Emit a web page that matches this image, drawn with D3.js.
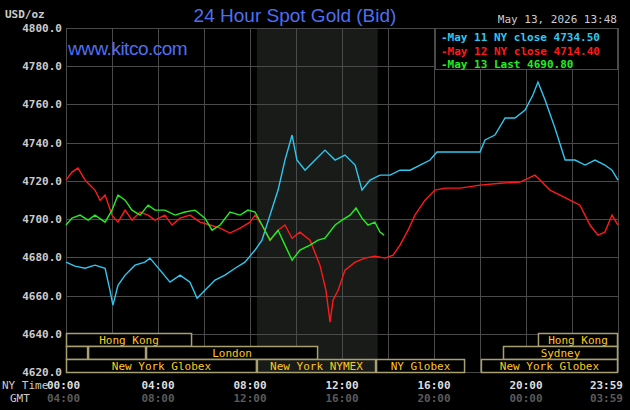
<!DOCTYPE html>
<html><head><meta charset="utf-8">
<script src="https://cdn.jsdelivr.net/npm/d3@7"></script>
<style>body{margin:0;background:#000}svg{display:block}</style>
</head><body><svg id="c" width="630" height="410"></svg>
<script>
// hour since 00:00 NY time, price USD/oz
const may11 = [[0,4677.5],[.39,4675.4],[.83,4674.3],[1.26,4675.9],[1.7,4674.3],[1.91,4662.8],[2.04,4655],[2.26,4665.4],[2.57,4670.7],[3,4675.9],[3.43,4677.5],[3.65,4679.6],[4.09,4673.3],[4.52,4667],[4.96,4670.7],[5.39,4667],[5.7,4658.6],[6.04,4662.8],[6.48,4668.1],[6.91,4670.7],[7.35,4674.3],[7.78,4677.5],[8.22,4683.8],[8.52,4689],[8.87,4702.1],[9.22,4715.2],[9.52,4730.9],[9.83,4744],[10.04,4730.9],[10.39,4725.6],[10.83,4730.9],[11.26,4736.1],[11.7,4730.9],[12.13,4733.5],[12.57,4728.3],[12.87,4715.2],[13.22,4720.4],[13.65,4723],[14.09,4723],[14.52,4725.6],[14.96,4725.6],[15.39,4728.3],[15.83,4730.9],[16.13,4735.1],[16.48,4735.1],[16.91,4735.1],[17.57,4735.1],[18,4735.1],[18.22,4741.4],[18.65,4744],[19.09,4752.9],[19.52,4752.9],[19.96,4757.1],[20.3,4764.9],[20.52,4771.7],[20.83,4762.3],[21.26,4747.6],[21.7,4730.9],[22.13,4730.9],[22.57,4728.3],[23,4730.9],[23.43,4728.3],[23.74,4725.6],[24,4720.4]];
const may12 = [[0,4720.4],[.26,4724.6],[.52,4726.7],[.83,4720.4],[1.04,4717.8],[1.26,4715.2],[1.48,4709.9],[1.7,4712.6],[2,4702.1],[2.26,4698.4],[2.57,4704.7],[2.87,4699.5],[3.22,4703.7],[3.57,4702.1],[3.87,4699.5],[4.3,4702.1],[4.61,4696.9],[4.96,4700.5],[5.39,4702.1],[5.83,4698.4],[6.26,4696.9],[6.7,4695.3],[7.13,4692.7],[7.57,4695.3],[8,4698.4],[8.22,4702.1],[8.52,4696.9],[8.87,4689],[9.22,4694.2],[9.52,4696.9],[9.83,4690],[10.17,4693.2],[10.61,4689],[11.04,4675.9],[11.3,4662.8],[11.48,4646.1],[11.61,4657.6],[11.83,4662.8],[12.13,4673.3],[12.57,4677.5],[13,4679.6],[13.43,4680.6],[13.87,4679.6],[14.22,4681.1],[14.52,4686.4],[14.87,4694.2],[15.17,4702.1],[15.61,4709.9],[16.04,4715.2],[16.48,4716.2],[17.13,4716.2],[18,4717.8],[18.87,4718.8],[19.74,4719.4],[20.39,4723],[20.61,4720.4],[21.04,4715.2],[21.48,4712.6],[21.91,4709.9],[22.35,4707.3],[22.78,4696.9],[23.13,4691.6],[23.43,4693.2],[23.74,4702.1],[24,4696.9]];
const may13 = [[0,4696.9],[.26,4700.5],[.61,4702.1],[.96,4699.5],[1.26,4702.1],[1.7,4698.4],[2,4704.7],[2.26,4712.6],[2.57,4709.9],[2.87,4704.7],[3.22,4702.1],[3.57,4707.3],[3.87,4704.7],[4.3,4704.7],[4.74,4702.1],[5.17,4703.7],[5.61,4704.7],[6.04,4700.5],[6.35,4694.2],[6.7,4696.9],[7.13,4703.7],[7.57,4702.1],[7.91,4704.7],[8.22,4703.7],[8.52,4696.9],[8.87,4689],[9.22,4694.2],[9.52,4686.4],[9.83,4678.5],[10.17,4683.8],[10.61,4686.4],[10.96,4689],[11.26,4690],[11.7,4696.9],[12,4699.5],[12.35,4702.1],[12.61,4705.8],[12.87,4700.5],[13.13,4696.9],[13.43,4698.4],[13.65,4693.2],[13.83,4691.6]];
const series = [
  {name: "May 11 NY close 4734.50", color: "#2fc8f0", data: may11},
  {name: "May 12 NY close 4714.40", color: "#ff1a1a", data: may12},
  {name: "May 13 Last 4690.80", color: "#22ee22", data: may13}
];
const priceTicks = [4620, 4640, 4660, 4680, 4700, 4720, 4740, 4760, 4780, 4800];
const nyLabels = ["00:00", "04:00", "08:00", "12:00", "16:00", "20:00", "23:59"];
const gmtLabels = ["04:00", "08:00", "12:00", "16:00", "20:00", "00:00", "03:59"];
const labelHours = [0, 4, 8, 12, 16, 20, 24];
const nymexHours = [8.3, 13.55];
// sessions: [start, end, row, label]
const sessions = [
  [0, 5.48, 0, "Hong Kong"], [20.52, 24, 0, "Hong Kong"],
  [0, 0.96, 1, ""], [0.96, 3.48, 1, ""], [3.48, 10.96, 1, "London"], [19, 24, 1, "Sydney"],
  [0, 8.3, 2, "New York Globex"], [8.3, 13.48, 2, "New York NYMEX"], [13.48, 17.35, 2, "NY Globex"], [18.04, 24, 2, "New York Globex"]
];

const svg = d3.select("#c");
const mono = "DejaVu Sans Mono";
const x = d3.scaleLinear().domain([0, 24]).range([66, 618]);
const y = d3.scaleLinear().domain([4620, 4800]).range([372, 28]);

svg.append("rect").attr("x", 66).attr("y", 28).attr("width", 552).attr("height", 344).attr("fill", "#000");
svg.append("rect").attr("x", x(nymexHours[0])).attr("y", 28)
  .attr("width", x(nymexHours[1]) - x(nymexHours[0])).attr("height", 344).attr("fill", "#181b18");

const grid = svg.append("g").attr("stroke", "#4a4a4a").attr("stroke-width", 1);
d3.range(0, 25, 2).forEach(h => grid.append("line").attr("x1", Math.round(x(h)) + .5).attr("x2", Math.round(x(h)) + .5).attr("y1", 28).attr("y2", 372));
priceTicks.forEach(p => grid.append("line").attr("x1", 66).attr("x2", 618).attr("y1", Math.round(y(p)) + .5).attr("y2", Math.round(y(p)) + .5));

svg.append("g").selectAll("text").data(priceTicks).join("text")
  .attr("x", 62).attr("y", d => y(d) + 4).attr("text-anchor", "end")
  .attr("fill", "#ccc").attr("font-family", mono).attr("font-size", 11).attr("font-weight", "bold")
  .text(d => d.toFixed(1));

// session bars
const rowH = 13;
const sess = svg.append("g");
sessions.forEach(s => {
  const y0 = 333 + s[2] * rowH;
  sess.append("rect").attr("x", x(s[0]) + .5).attr("y", y0 + .5).attr("width", x(s[1]) - x(s[0]) - 1).attr("height", rowH)
    .attr("fill", s[3] === "New York NYMEX" ? "#181b18" : "#000").attr("stroke", "#a8a070").attr("stroke-width", 1.5);
  sess.append("text").attr("x", (x(s[0]) + x(s[1])) / 2).attr("y", y0 + 10.5).attr("text-anchor", "middle")
    .attr("fill", "#ffc81e").attr("font-family", mono).attr("font-size", 11).text(s[3]);
});

const line = d3.line().x(d => x(d[0])).y(d => y(d[1]));
series.forEach(s => svg.append("path").attr("d", line(s.data)).attr("fill", "none").attr("stroke", s.color).attr("stroke-width", 1.4));

// legend
svg.append("rect").attr("x", 435.5).attr("y", 28.5).attr("width", 182).attr("height", 41).attr("fill", "#000").attr("stroke", "#4a4a4a");
series.forEach((s, i) => svg.append("text").attr("x", 441).attr("y", 41 + i * 13.5)
  .attr("fill", s.color).attr("font-family", mono).attr("font-size", 11).attr("font-weight", "bold").text("-" + s.name));

// titles
svg.append("text").attr("x", 5).attr("y", 18).attr("fill", "#ccc").attr("font-family", mono).attr("font-size", 11).attr("font-weight", "bold").text("USD/oz");
svg.append("text").attr("x", 295).attr("y", 22).attr("text-anchor", "middle").attr("fill", "#4d6ff0")
  .attr("font-family", "Liberation Sans").attr("font-size", 19).text("24 Hour Spot Gold (Bid)");
svg.append("text").attr("x", 617).attr("y", 23).attr("text-anchor", "end").attr("fill", "#ccc").attr("font-family", mono).attr("font-size", 11).text("May 13, 2026 13:48");
svg.append("text").attr("x", 68).attr("y", 55).attr("fill", "#4d6ff0")
  .attr("font-family", "Liberation Sans").attr("font-size", 19).attr("letter-spacing", -0.5).text("www.kitco.com");

// time axis labels
svg.append("text").attr("x", 2).attr("y", 389).attr("fill", "#ccc").attr("font-family", mono).attr("font-size", 11).text("NY Time");
svg.append("text").attr("x", 10).attr("y", 402).attr("fill", "#ccc").attr("font-family", mono).attr("font-size", 11).text("GMT");
labelHours.forEach((h, i) => {
  const anchor = i === 0 ? "start" : i === labelHours.length - 1 ? "end" : "middle";
  const px = i === 0 ? 47 : i === labelHours.length - 1 ? 623 : x(h);
  svg.append("text").attr("x", px).attr("y", 389).attr("text-anchor", anchor).attr("fill", "#ddd").attr("font-family", mono).attr("font-size", 11).attr("font-weight", "bold").text(nyLabels[i]);
  svg.append("text").attr("x", px).attr("y", 402).attr("text-anchor", anchor).attr("fill", "#5a5a5a").attr("font-family", mono).attr("font-size", 11).attr("font-weight", "bold").text(gmtLabels[i]);
});
</script></body></html>
